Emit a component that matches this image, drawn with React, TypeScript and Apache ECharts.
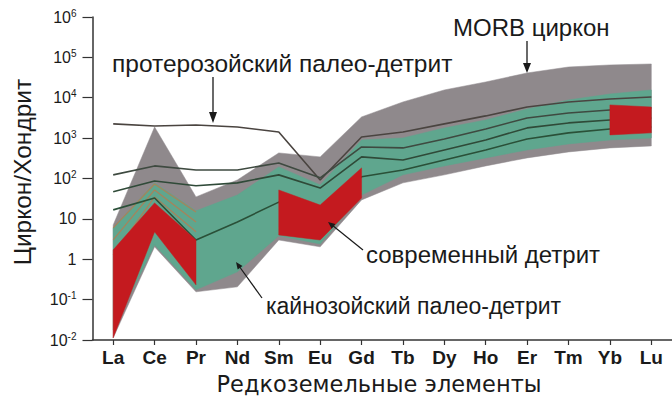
import React, { useEffect, useRef } from "react";
import * as echarts from "echarts";

const elements = ["La", "Ce", "Pr", "Nd", "Sm", "Eu", "Gd", "Tb", "Dy", "Ho", "Er", "Tm", "Yb", "Lu"];

// MORB zircon envelope (grey)
const morbUpper = [7.1, 1890, 35, 92, 430, 343, 3350, 7870, 15600, 24600, 41100, 57800, 64900, 68700];
const morbLower = [0.0113, 2.03, 0.156, 0.207, 3.0, 2.03, 29.5, 78, 123, 205, 324, 455, 572, 641];

// Cenozoic paleo-detrital envelope (teal)
const cenozoicUpper = [6.0, 78, 15.8, 39, 194, 69.5, 900, 1010, 1790, 2820, 5280, 8830, 12400, 15600];
const cenozoicLower = [0.0179, 2.27, 0.175, 0.488, 3.8, 2.4, 39, 123, 205, 324, 510, 718, 900, 1010];

// Modern detrital (red), measured only for some elements
const modernUpper = [1.71, 24.9, 3.0, null, 52, 22, 183, null, null, null, null, null, 6640, 5900];
const modernLower = [0.0113, 4.77, 0.232, null, 4.0, 3.0, 33, null, null, null, null, null, 1200, 1350];

// Proterozoic paleo-detrital grains (dark lines)
const proterozoicA = [2250, 2000, 2120, 1890, 1420, 92, 1070, 1420, 2250, 3550, 5920, 7870, 9340, 10470];
const proterozoicB = [123, 205, 163, 163, 243, 104, 605, 572, 955, 1690, 3160, 4200, 4990, 5590];
const proterozoicC = [47, 87, 66, 78, 123, 58, 343, 288, 510, 900, 1790, 2380, 2820, 3160];
const proterozoicD = [16.7, 33, 3.0, 8.4, 26, 13.3, 110, 163, 288, 510, 955, 1350, 1690, 1890];

// Cenozoic individual grains (tan lines)
const cenozoicT1 = [6.0, 73, 14.9, null, null, null, null, null, null, null, null, null, null, null];
const cenozoicT2 = [3.0, 52, 8.4, null, null, null, null, null, null, null, null, null, null, null];
const cenozoicT3 = [1.29, 35, 4.8, null, null, null, null, null, null, null, null, null, null, null];
const cenozoicT4 = [null, null, null, null, 6.0, 4.8, 47, null, null, null, null, null, null, null];

const yTickExponents = [-2, -1, 0, 1, 2, 3, 4, 5, 6];

function bandSeries(name: string, upper: (number | null)[], lower: (number | null)[], color: string, z: number) {
  return {
    type: "custom",
    name,
    z,
    silent: true,
    clip: false,
    data: [[0, 1]],
    renderItem: (_params: any, api: any) => {
      const children: any[] = [];
      let seg: number[] = [];
      const flush = () => {
        if (seg.length > 1) {
          const top = seg.map((i) => api.coord([i, upper[i]]));
          const bottom = seg
            .slice()
            .reverse()
            .map((i) => api.coord([i, lower[i]]));
          children.push({
            type: "polygon",
            shape: { points: top.concat(bottom) },
            style: { fill: color, stroke: color, lineWidth: 0.5 },
          });
        }
        seg = [];
      };
      for (let i = 0; i < upper.length; i++) {
        if (upper[i] == null || lower[i] == null) flush();
        else seg.push(i);
      }
      flush();
      return { type: "group", children };
    },
  };
}

function lineSeries(name: string, data: (number | null)[], color: string, width: number, z: number) {
  return {
    type: "line",
    name,
    data,
    z,
    symbol: "none",
    silent: true,
    connectNulls: false,
    lineStyle: { color, width },
  };
}

const FONT = "'Liberation Sans', Arial, Helvetica, sans-serif";

export default function App() {
  const ref = useRef<HTMLDivElement>(null);
  useEffect(() => {
    document.body.style.margin = "0";
    if (!ref.current) return;
    const chart = echarts.init(ref.current, undefined, { renderer: "svg" });
    const ink = "#1a1a1a";
    const option: any = {
      animation: false,
      backgroundColor: "#ffffff",
      grid: { left: 92.5, top: 17, width: 582, height: 323, containLabel: false },
      xAxis: {
        type: "category",
        data: elements,
        boundaryGap: true,
        axisLine: { show: true, lineStyle: { color: "#333", width: 1.5 } },
        axisTick: { show: true, alignWithLabel: true, length: 5, lineStyle: { color: "#333", width: 1.2 } },
        axisLabel: { color: ink, fontFamily: FONT, fontWeight: "bold", fontSize: 19, margin: 8 },
        splitLine: { show: false },
      },
      yAxis: {
        type: "log",
        logBase: 10,
        min: Math.pow(10, yTickExponents[0]),
        max: Math.pow(10, yTickExponents[yTickExponents.length - 1]),
        splitNumber: yTickExponents.length - 1,
        axisLine: { show: true, lineStyle: { color: "#333", width: 1.5 } },
        axisTick: { show: true, length: 10, lineStyle: { color: "#333", width: 1.2 } },
        minorTick: { show: false },
        splitLine: { show: false },
        axisLabel: {
          margin: 16,
          color: ink,
          fontFamily: FONT,
          formatter: (v: number) => {
            const e = Math.round(Math.log10(v));
            if (e === 0) return "{b|1}";
            if (e === 1) return "{b|10}";
            return "{b|10}{s|" + e + "}";
          },
          rich: {
            b: { fontSize: 16, fontFamily: FONT, color: ink, lineHeight: 18 },
            s: { fontSize: 10, fontFamily: FONT, color: ink, verticalAlign: "top", lineHeight: 10 },
          },
        },
      },
      series: [
        bandSeries("MORB циркон", morbUpper, morbLower, "#8f898c", 1),
        bandSeries("кайнозойский палео-детрит", cenozoicUpper, cenozoicLower, "#5fa68e", 2),
        lineSeries("T1", cenozoicT1, "#a8825a", 1.2, 3),
        lineSeries("T2", cenozoicT2, "#a8825a", 1.2, 3),
        lineSeries("T3", cenozoicT3, "#a8825a", 1.2, 3),
        lineSeries("T4", cenozoicT4, "#a8a070", 1.5, 3),
        lineSeries("A", proterozoicA, "#4a4440", 1.6, 4),
        lineSeries("B", proterozoicB, "#3e4a40", 1.6, 4),
        lineSeries("C", proterozoicC, "#2f4a38", 1.6, 4),
        lineSeries("D", proterozoicD, "#2a5038", 1.6, 4),
        bandSeries("современный детрит", modernUpper, modernLower, "#c41a1f", 5),
      ],
      graphic: [
        {
          type: "text",
          x: 22,
          y: 172,
          rotation: Math.PI / 2,
          style: { text: "Циркон/Хондрит", font: "24.5px " + FONT, fill: ink, textAlign: "center", textVerticalAlign: "middle" },
        },
        {
          type: "text",
          x: 379,
          y: 384,
          style: { text: "Редкоземельные элементы", font: "22.5px 'DejaVu Sans', sans-serif", fill: ink, textAlign: "center", textVerticalAlign: "middle" },
        },
        {
          type: "text",
          x: 112,
          y: 63,
          style: { text: "протерозойский палео-детрит", font: "24.5px " + FONT, fill: ink, textAlign: "left", textVerticalAlign: "middle" },
        },
        {
          type: "text",
          x: 453,
          y: 27,
          style: { text: "MORB циркон", font: "24px " + FONT, fill: ink, textAlign: "left", textVerticalAlign: "middle" },
        },
        {
          type: "text",
          x: 366,
          y: 254,
          style: { text: "современный детрит", font: "24px " + FONT, fill: ink, textAlign: "left", textVerticalAlign: "middle" },
        },
        {
          type: "text",
          x: 266,
          y: 306,
          style: { text: "кайнозойский палео-детрит", font: "23px " + FONT, fill: ink, textAlign: "left", textVerticalAlign: "middle" },
        },
        { type: "line", z: 10, shape: { x1: 213, y1: 77, x2: 213, y2: 116 }, style: { stroke: ink, lineWidth: 1.3 } },
        { type: "polygon", z: 10, shape: { points: [[209, 112], [217, 112], [213, 123]] }, style: { fill: ink } },
        { type: "line", z: 10, shape: { x1: 527, y1: 41, x2: 527, y2: 66 }, style: { stroke: ink, lineWidth: 1.3 } },
        { type: "polygon", z: 10, shape: { points: [[523, 63], [531, 63], [527, 73]] }, style: { fill: ink } },
        { type: "line", z: 10, shape: { x1: 363, y1: 250, x2: 332, y2: 225 }, style: { stroke: ink, lineWidth: 1.2 } },
        { type: "polygon", z: 10, shape: { points: [[335.4, 224.0], [331.6, 228.7], [328, 222]] }, style: { fill: ink } },
        { type: "line", z: 10, shape: { x1: 262, y1: 298, x2: 239, y2: 266 }, style: { stroke: ink, lineWidth: 1.2 } },
        { type: "polygon", z: 10, shape: { points: [[242.5, 265.9], [237.7, 269.4], [236, 262]] }, style: { fill: ink } },
      ],
    };
    chart.setOption(option);
    return () => chart.dispose();
  }, []);
  return <div ref={ref} style={{ width: 672, height: 398 }} />;
}
